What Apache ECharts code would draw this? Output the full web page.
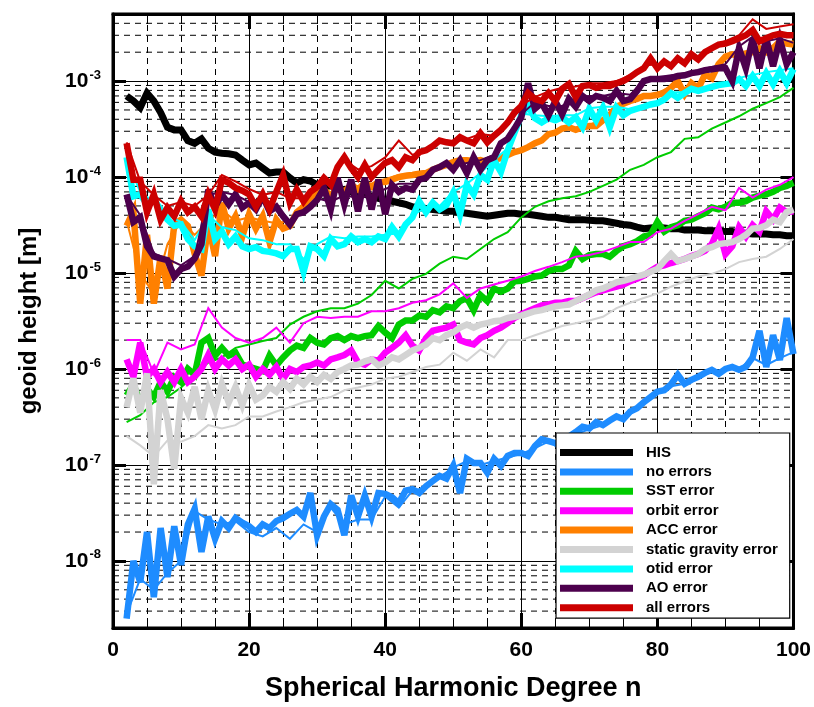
<!DOCTYPE html>
<html>
<head>
<meta charset="utf-8">
<script src="https://cdn.jsdelivr.net/npm/echarts@6/dist/echarts.min.js"></script>
<style>
  html, body { margin: 0; padding: 0; background: #fff; }
  #chart { width: 814px; height: 707px; }
</style>
</head>
<body>
<div id="chart"></div>
<script>
// Spherical harmonic degrees: every degree for the main curves, every second degree for the companion curves
function range(a, b, step) { const r = []; for (let v = a; v <= b; v += step) r.push(v); return r; }
const DEGREES = range(2, 100, 1);
const DEGREES_EVEN = range(2, 100, 2);

const X_TICKS = [0, 20, 40, 60, 80, 100];

const SERIES_NAMES = ['HIS', 'no errors', 'SST error', 'orbit error', 'ACC error',
  'static gravity error', 'otid error', 'AO error', 'all errors'];

// geoid height [m] per degree
const his = [
  7.0e-4,6.2e-4,5.3e-4,7.5e-4,6.2e-4,4.7e-4,3.3e-4,3.1e-4,3.1e-4,2.4e-4,
  2.25e-4,2.5e-4,2.0e-4,1.82e-4,1.77e-4,1.75e-4,1.7e-4,1.5e-4,1.34e-4,1.4e-4,
  1.24e-4,1.1e-4,1.13e-4,1.13e-4,9.8e-5,8.7e-5,9.4e-5,9.1e-5,8.3e-5,7.9e-5,
  8.1e-5,7.6e-5,7.4e-5,7.0e-5,6.9e-5,6.6e-5,6.3e-5,6.0e-5,5.8e-5,5.6e-5,
  5.4e-5,5.2e-5,4.9e-5,4.8e-5,4.7e-5,4.6e-5,4.5e-5,4.4e-5,4.4e-5,4.3e-5,
  4.2e-5,4.1e-5,4.0e-5,3.9e-5,4.0e-5,4.1e-5,4.2e-5,4.2e-5,4.1e-5,4.1e-5,
  4.0e-5,3.9e-5,3.8e-5,3.8e-5,3.7e-5,3.6e-5,3.6e-5,3.6e-5,3.55e-5,3.5e-5,
  3.5e-5,3.4e-5,3.3e-5,3.2e-5,3.15e-5,3.0e-5,2.9e-5,2.95e-5,3.0e-5,2.95e-5,
  2.9e-5,2.9e-5,2.8e-5,2.8e-5,2.8e-5,2.75e-5,2.75e-5,2.75e-5,2.7e-5,2.7e-5,
  2.6e-5,2.6e-5,2.55e-5,2.55e-5,2.55e-5,2.5e-5,2.5e-5,2.45e-5,2.45e-5
];

const noErrors = [
  2.5e-9,1.0e-8,6.0e-9,2.0e-8,4.2e-9,2.2e-8,6.8e-9,2.3e-8,9.1e-9,2.4e-8,
  3.5e-8,1.24e-8,2.9e-8,1.7e-8,2.6e-8,2.2e-8,2.8e-8,2.5e-8,2.3e-8,2.0e-8,
  2.4e-8,2.2e-8,2.6e-8,2.8e-8,3.1e-8,3.4e-8,2.9e-8,5.1e-8,1.85e-8,2.9e-8,
  3.9e-8,3.4e-8,1.85e-8,4.8e-8,2.9e-8,4.8e-8,2.9e-8,5.1e-8,5.0e-8,4.6e-8,
  4.0e-8,5.4e-8,5.6e-8,5.1e-8,6.0e-8,6.8e-8,7.7e-8,7.2e-8,9.8e-8,5.1e-8,
  1.16e-7,1.05e-7,1.05e-7,8.3e-8,1.16e-7,9.8e-8,1.24e-7,1.33e-7,1.33e-7,1.24e-7,
  1.57e-7,1.85e-7,1.77e-7,1.69e-7,1.47e-7,1.98e-7,2.2e-7,2.5e-7,2.4e-7,2.8e-7,
  2.6e-7,2.9e-7,3.2e-7,3.0e-7,3.6e-7,3.9e-7,4.5e-7,5.1e-7,5.8e-7,6.0e-7,
  6.9e-7,8.7e-7,7.0e-7,7.7e-7,8.3e-7,9.1e-7,9.8e-7,8.9e-7,1.0e-6,1.05e-6,
  9.8e-7,1.05e-6,1.32e-6,2.5e-6,1.05e-6,2.25e-6,1.24e-6,3.4e-6,1.43e-6
];
const noErrorsB = [
  2.8e-9,6.5e-9,5.0e-9,7.5e-9,1.0e-8,3.3e-8,2.7e-8,2.4e-8,2.6e-8,2.0e-8,
  1.8e-8,2.2e-8,1.7e-8,2.4e-8,2.0e-8,3.6e-8,2.4e-8,2.7e-8,2.7e-8,4.7e-8,
  3.6e-8,5.4e-8,5.8e-8,7.5e-8,9.4e-8,1.1e-7,1.0e-7,1.1e-7,1.2e-7,1.3e-7,
  1.5e-7,1.75e-7,1.5e-7,2.1e-7,2.35e-7,2.6e-7,3.1e-7,3.5e-7,4.4e-7,5.6e-7,
  6.6e-7,7.0e-7,8.0e-7,9.5e-7,9.8e-7,1.0e-6,1.3e-6,1.1e-6,1.3e-6,1.5e-6
];

const sstError = [
  5.3e-7,6.9e-7,4.5e-7,6.2e-7,5.1e-7,7.3e-7,5.8e-7,8.2e-7,7.3e-7,1.0e-6,
  8.7e-7,1.88e-6,2.1e-6,1.38e-6,1.66e-6,1.38e-6,1.48e-6,1.11e-6,1.05e-6,1.0e-6,
  9.5e-7,1.38e-6,1.09e-6,1.32e-6,1.56e-6,1.75e-6,1.66e-6,2.1e-6,1.88e-6,1.8e-6,
  2.1e-6,2.2e-6,2.0e-6,2.2e-6,2.1e-6,2.2e-6,2.25e-6,2.8e-6,2.4e-6,2.1e-6,
  2.9e-6,3.2e-6,3.2e-6,3.6e-6,3.5e-6,4.1e-6,3.9e-6,4.5e-6,4.3e-6,5.1e-6,
  5.5e-6,4.1e-6,5.9e-6,5.1e-6,6.9e-6,6.4e-6,6.9e-6,8.2e-6,8.3e-6,8.7e-6,
  9.2e-6,9.4e-6,1.05e-5,1.1e-5,1.1e-5,1.2e-5,1.7e-5,1.4e-5,1.54e-5,1.58e-5,
  1.58e-5,1.48e-5,1.7e-5,1.9e-5,2.0e-5,2.15e-5,2.4e-5,2.5e-5,3.4e-5,2.7e-5,
  3.0e-5,3.15e-5,3.5e-5,3.6e-5,3.9e-5,4.2e-5,4.8e-5,4.6e-5,4.9e-5,5.4e-5,
  5.4e-5,5.6e-5,6.1e-5,6.4e-5,6.6e-5,7.0e-5,7.7e-5,8.1e-5,8.7e-5
];
const sstErrorB = [
  2.8e-7,3.3e-7,4.5e-7,5.1e-7,6.4e-7,8.7e-7,1.17e-6,1.32e-6,1.66e-6,1.8e-6,
  1.96e-6,2.1e-6,2.9e-6,3.5e-6,4.0e-6,4.3e-6,4.3e-6,4.8e-6,5.9e-6,8.3e-6,
  6.9e-6,8.7e-6,9.8e-6,1.25e-5,1.48e-5,1.4e-5,1.78e-5,2.26e-5,2.66e-5,3.8e-5,
  4.9e-5,5.6e-5,6.0e-5,6.3e-5,7.0e-5,8.1e-5,9.4e-5,1.19e-4,1.34e-4,1.61e-4,
  1.82e-4,2.5e-4,2.6e-4,3.2e-4,3.7e-4,4.3e-4,5.15e-4,5.9e-4,6.8e-4,8.5e-4
];

const orbitError = [
  1.26e-6,8.3e-7,1.88e-6,8.3e-7,1.0e-6,7.3e-7,9.3e-7,7.3e-7,1.0e-6,7.3e-7,
  8.3e-7,1.0e-6,1.4e-6,1.0e-6,1.26e-6,1.09e-6,1.26e-6,1.0e-6,1.11e-6,8.3e-7,
  1.0e-6,8.7e-7,1.05e-6,7.9e-7,1.0e-6,9.3e-7,1.05e-6,1.09e-6,1.17e-6,1.09e-6,
  1.26e-6,1.32e-6,1.4e-6,1.56e-6,1.17e-6,1.11e-6,1.26e-6,1.22e-6,1.48e-6,1.66e-6,
  1.88e-6,2.25e-6,1.75e-6,1.56e-6,2.1e-6,2.5e-6,2.6e-6,2.7e-6,2.9e-6,2.0e-6,
  1.88e-6,1.8e-6,2.1e-6,2.25e-6,2.5e-6,2.7e-6,3.0e-6,3.4e-6,3.7e-6,4.0e-6,
  4.3e-6,4.6e-6,4.7e-6,4.9e-6,4.9e-6,5.1e-6,5.1e-6,5.5e-6,5.9e-6,6.3e-6,
  6.6e-6,6.9e-6,7.2e-6,7.6e-6,8.2e-6,8.7e-6,9.4e-6,1.05e-5,1.16e-5,1.2e-5,
  1.27e-5,1.33e-5,1.4e-5,1.5e-5,1.58e-5,1.7e-5,2.0e-5,2.9e-5,1.58e-5,1.9e-5,
  3.0e-5,2.4e-5,3.15e-5,2.7e-5,4.4e-5,3.6e-5,4.8e-5,4.3e-5,4.4e-5
];
const orbitErrorB = [
  2.0e-6,2.0e-6,8.9e-7,1.88e-6,1.6e-6,1.8e-6,4.3e-6,2.7e-6,2.1e-6,1.88e-6,
  2.1e-6,2.7e-6,1.88e-6,3.0e-6,3.5e-6,3.4e-6,3.5e-6,3.5e-6,4.0e-6,4.0e-6,
  4.3e-6,4.9e-6,5.2e-6,6.0e-6,7.8e-6,5.5e-6,6.9e-6,7.6e-6,8.3e-6,9.2e-6,
  1.05e-5,1.16e-5,1.3e-5,1.48e-5,1.54e-5,1.66e-5,1.86e-5,2.1e-5,2.1e-5,2.66e-5,
  2.9e-5,3.5e-5,4.1e-5,4.9e-5,4.5e-5,7.7e-5,6.1e-5,7.4e-5,8.3e-5,1.0e-4
];

const accError = [
  3.1e-5,4.4e-5,4.8e-6,2.5e-5,4.8e-6,1.5e-5,6.9e-6,3.2e-5,3.6e-5,3.1e-5,
  1.58e-5,9.4e-6,3.2e-5,1.5e-5,5.4e-5,2.9e-5,3.9e-5,2.4e-5,4.1e-5,2.9e-5,
  3.9e-5,2.1e-5,3.6e-5,2.9e-5,3.1e-5,4.3e-5,4.9e-5,6.3e-5,6.6e-5,7.4e-5,
  6.4e-5,7.7e-5,7.0e-5,8.3e-5,7.4e-5,8.7e-5,7.9e-5,8.9e-5,8.9e-5,9.4e-5,
  1.0e-4,1.03e-4,1.05e-4,1.08e-4,1.1e-4,1.19e-4,1.27e-4,1.34e-4,1.43e-4,1.5e-4,
  1.5e-4,1.47e-4,1.5e-4,1.4e-4,1.5e-4,1.58e-4,1.7e-4,1.82e-4,1.9e-4,2.05e-4,
  2.25e-4,2.4e-4,2.8e-4,2.9e-4,3.2e-4,3.3e-4,3.1e-4,3.3e-4,3.4e-4,3.4e-4,
  3.9e-4,4.4e-4,5.4e-4,5.8e-4,6.2e-4,6.5e-4,7.0e-4,7.0e-4,7.2e-4,7.5e-4,
  8.5e-4,1.0e-3,7.3e-4,9.5e-4,8.3e-4,1.18e-3,1.07e-3,1.5e-3,1.8e-3,1.9e-3,
  1.85e-3,1.94e-3,2.0e-3,2.2e-3,2.0e-3,2.2e-3,2.6e-3,2.46e-3,2.4e-3
];
const accErrorB = [
  3.5e-5,1.0e-5,6.0e-6,2.0e-5,3.5e-5,2.5e-5,3.5e-5,4.5e-5,3.5e-5,3.8e-5,
  3.5e-5,3.3e-5,3.5e-5,5.0e-5,6.5e-5,7.0e-5,7.5e-5,8.0e-5,8.5e-5,9.5e-5,
  1.05e-4,1.1e-4,1.15e-4,1.3e-4,1.45e-4,1.5e-4,1.55e-4,1.55e-4,1.7e-4,1.95e-4,
  2.3e-4,2.8e-4,3.2e-4,3.2e-4,3.5e-4,4.0e-4,5.2e-4,6.0e-4,7.0e-4,7.5e-4,
  8.8e-4,8.5e-4,9.5e-4,1.2e-3,1.8e-3,1.9e-3,2.1e-3,2.2e-3,2.5e-3,2.6e-3
];

const staticGravityError = [
  4.0e-7,8.0e-7,3.5e-7,9.0e-7,6.3e-8,6.0e-7,3.0e-7,9.1e-8,5.0e-7,3.5e-7,
  6.5e-7,3.0e-7,6.0e-7,3.8e-7,7.0e-7,4.5e-7,6.5e-7,4.2e-7,6.8e-7,4.8e-7,
  5.3e-7,6.5e-7,5.8e-7,7.3e-7,6.2e-7,7.9e-7,6.9e-7,8.3e-7,7.3e-7,8.7e-7,
  7.9e-7,9.3e-7,1.0e-6,1.09e-6,1.11e-6,1.2e-6,1.26e-6,1.09e-6,1.17e-6,1.32e-6,
  1.26e-6,1.4e-6,1.56e-6,1.66e-6,1.8e-6,2.1e-6,2.0e-6,2.25e-6,2.4e-6,2.7e-6,
  2.9e-6,2.7e-6,2.9e-6,3.0e-6,3.15e-6,3.2e-6,3.4e-6,3.5e-6,3.6e-6,3.8e-6,
  4.0e-6,4.1e-6,4.3e-6,4.5e-6,4.6e-6,4.7e-6,5.1e-6,5.5e-6,6.0e-6,6.6e-6,
  6.9e-6,7.4e-6,8.0e-6,8.3e-6,8.7e-6,9.2e-6,9.6e-6,1.03e-5,1.1e-5,1.33e-5,
  1.58e-5,1.33e-5,1.4e-5,1.48e-5,1.58e-5,1.78e-5,1.86e-5,2.0e-5,2.05e-5,2.1e-5,
  2.26e-5,2.5e-5,2.9e-5,2.95e-5,3.15e-5,3.6e-5,3.4e-5,4.3e-5,4.6e-5
];
const staticGravityErrorB = [
  2.0e-7,1.6e-7,1.23e-7,1.8e-7,1.75e-7,2.0e-7,2.6e-7,2.4e-7,2.6e-7,3.2e-7,
  3.2e-7,3.6e-7,4.0e-7,4.5e-7,4.8e-7,5.1e-7,6.0e-7,6.4e-7,6.9e-7,7.9e-7,
  8.3e-7,9.3e-7,1.05e-6,1.11e-6,1.48e-6,1.22e-6,1.6e-6,1.32e-6,2.0e-6,2.0e-6,
  2.25e-6,2.5e-6,2.8e-6,3.0e-6,3.2e-6,3.5e-6,4.3e-6,4.9e-6,5.5e-6,6.1e-6,
  7.2e-6,8.2e-6,9.2e-6,9.8e-6,1.1e-5,1.3e-5,1.4e-5,1.48e-5,1.78e-5,2.26e-5
];

const otidError = [
  1.61e-4,6.3e-5,6.6e-5,5.2e-5,5.8e-5,4.6e-5,3.6e-5,3.1e-5,3.2e-5,2.26e-5,
  1.9e-5,1.78e-5,4.6e-5,2.26e-5,2.7e-5,2.0e-5,2.4e-5,1.9e-5,1.78e-5,1.86e-5,
  1.7e-5,1.66e-5,1.6e-5,1.5e-5,1.78e-5,1.78e-5,1.03e-5,1.9e-5,1.78e-5,1.5e-5,
  2.26e-5,1.9e-5,2.0e-5,2.4e-5,2.1e-5,2.26e-5,2.1e-5,2.4e-5,2.26e-5,3.0e-5,
  2.4e-5,3.2e-5,3.8e-5,5.6e-5,4.3e-5,5.4e-5,4.6e-5,5.1e-5,6.9e-5,4.1e-5,
  8.3e-5,6.6e-5,1.05e-4,9.4e-5,1.5e-4,1.13e-4,1.9e-4,2.9e-4,4.4e-4,5.5e-4,
  4.1e-4,3.7e-4,4.1e-4,3.9e-4,4.2e-4,3.7e-4,4.2e-4,3.3e-4,5.15e-4,3.9e-4,
  5.3e-4,3.3e-4,5.3e-4,4.4e-4,4.9e-4,5.15e-4,5.4e-4,5.7e-4,5.9e-4,6.4e-4,
  7.5e-4,6.7e-4,7.5e-4,8.3e-4,7.9e-4,8.3e-4,8.7e-4,9.1e-4,9.3e-4,9.5e-4,
  1.05e-3,8.9e-4,1.13e-3,8.9e-4,1.21e-3,9.3e-4,1.27e-3,9.5e-4,1.33e-3
];
const otidErrorB = [
  1.5e-4,7.0e-5,5.5e-5,4.0e-5,3.4e-5,2.2e-5,4.0e-5,3.0e-5,2.8e-5,2.3e-5,
  2.2e-5,2.0e-5,2.0e-5,1.4e-5,2.0e-5,2.4e-5,2.3e-5,2.4e-5,2.4e-5,2.5e-5,
  2.6e-5,4.0e-5,4.8e-5,5.0e-5,7.0e-5,8.5e-5,1.1e-4,1.5e-4,2.0e-4,4.6e-4,
  4.4e-4,4.3e-4,4.4e-4,4.4e-4,5.2e-4,5.4e-4,5.4e-4,5.1e-4,5.6e-4,6.1e-4,
  7.6e-4,7.7e-4,8.2e-4,9.0e-4,9.6e-4,1.08e-3,1.16e-3,1.24e-3,1.3e-3,1.36e-3
];

const aoError = [
  6.6e-5,3.4e-5,3.8e-5,1.9e-5,1.49e-5,1.42e-5,1.36e-5,9.2e-6,1.1e-5,1.17e-5,
  1.42e-5,2.0e-5,7.4e-5,4.9e-5,6.6e-5,5.2e-5,6.6e-5,4.8e-5,5.4e-5,4.6e-5,
  6.3e-5,4.4e-5,4.9e-5,3.9e-5,3.2e-5,4.1e-5,4.3e-5,4.9e-5,5.8e-5,7.7e-5,
  4.6e-5,9.8e-5,5.2e-5,9.4e-5,4.4e-5,9.8e-5,4.6e-5,9.4e-5,4.1e-5,8.3e-5,
  7.0e-5,7.7e-5,7.4e-5,9.4e-5,9.8e-5,1.19e-4,1.27e-4,1.4e-4,1.19e-4,1.5e-4,
  1.1e-4,1.61e-4,1.19e-4,1.5e-4,1.61e-4,2.25e-4,2.5e-4,3.2e-4,4.2e-4,9.5e-4,
  5.15e-4,5.9e-4,4.4e-4,6.2e-4,4.5e-4,6.5e-4,5.4e-4,7.0e-4,6.2e-4,7.0e-4,
  6.7e-4,6.2e-4,7.9e-4,6.2e-4,6.5e-4,7.9e-4,1.0e-3,1.05e-3,1.05e-3,1.05e-3,
  1.07e-3,1.13e-3,1.15e-3,1.21e-3,1.24e-3,1.3e-3,1.33e-3,1.36e-3,1.36e-3,1.0e-3,
  2.2e-3,1.36e-3,2.77e-3,1.36e-3,2.77e-3,1.43e-3,2.7e-3,1.5e-3,2.0e-3
];
const aoErrorB = [
  6.5e-5,4.0e-5,1.6e-5,1.4e-5,1.2e-5,1.5e-5,6.5e-5,7.0e-5,6.5e-5,5.5e-5,
  6.0e-5,5.0e-5,3.5e-5,4.5e-5,6.0e-5,5.5e-5,6.5e-5,6.0e-5,6.5e-5,7.5e-5,
  8.5e-5,8.5e-5,1.05e-4,1.3e-4,1.3e-4,1.4e-4,1.5e-4,1.7e-4,2.6e-4,4.5e-4,
  6.0e-4,5.5e-4,5.5e-4,6.5e-4,7.0e-4,7.0e-4,7.5e-4,7.2e-4,1.0e-3,1.1e-3,
  1.15e-3,1.2e-3,1.3e-3,1.4e-3,1.5e-3,2.3e-3,2.9e-3,2.6e-3,2.8e-3,2.5e-3
];

const allErrors = [
  2.25e-4,9.4e-5,9.4e-5,4.3e-5,6.6e-5,3.6e-5,4.8e-5,3.9e-5,5.6e-5,4.3e-5,
  4.9e-5,3.9e-5,6.6e-5,4.6e-5,9.4e-5,8.7e-5,7.7e-5,7.2e-5,6.6e-5,4.9e-5,
  6.6e-5,4.6e-5,7.0e-5,1.05e-4,5.4e-5,7.4e-5,5.6e-5,7.0e-5,7.9e-5,9.8e-5,
  8.3e-5,1.27e-4,1.61e-4,1.24e-4,1.0e-4,1.34e-4,1.0e-4,1.19e-4,1.4e-4,1.5e-4,
  1.27e-4,1.61e-4,1.5e-4,1.82e-4,1.9e-4,2.1e-4,2.4e-4,2.3e-4,2.25e-4,2.6e-4,
  2.4e-4,2.25e-4,2.85e-4,2.3e-4,2.7e-4,3.1e-4,3.7e-4,4.7e-4,5.5e-4,7.5e-4,
  6.5e-4,6.2e-4,7.5e-4,6.2e-4,8.3e-4,9.3e-4,6.8e-4,8.9e-4,9.1e-4,8.5e-4,
  8.9e-4,8.9e-4,9.5e-4,1.0e-3,1.1e-3,1.24e-3,1.36e-3,1.72e-3,1.36e-3,1.6e-3,
  1.43e-3,1.72e-3,1.53e-3,1.9e-3,1.68e-3,2.0e-3,2.2e-3,2.4e-3,2.46e-3,2.6e-3,
  2.8e-3,3.0e-3,3.4e-3,2.6e-3,2.8e-3,3.0e-3,3.1e-3,3.0e-3,3.0e-3
];
const allErrorsB = [
  2.3e-4,9.0e-5,6.5e-5,5.0e-5,5.5e-5,5.0e-5,6.5e-5,1.05e-4,9.0e-5,7.5e-5,
  6.5e-5,7.0e-5,6.0e-5,6.0e-5,8.0e-5,9.0e-5,1.5e-4,1.2e-4,1.3e-4,1.6e-4,
  2.4e-4,1.7e-4,1.9e-4,2.3e-4,2.3e-4,2.5e-4,2.8e-4,2.7e-4,3.8e-4,5.6e-4,
  6.8e-4,7.8e-4,8.5e-4,8.8e-4,9.5e-4,9.5e-4,1.0e-3,1.15e-3,1.45e-3,1.5e-3,
  1.55e-3,1.65e-3,1.8e-3,2.3e-3,2.6e-3,3.0e-3,4.4e-3,3.5e-3,3.7e-3,3.9e-3
];

const COLORS = {
  'HIS': '#000000',
  'no errors': '#1e8cff',
  'SST error': '#00cc00',
  'orbit error': '#ff00ff',
  'ACC error': '#ff8000',
  'static gravity error': '#d3d3d3',
  'otid error': '#00ffff',
  'AO error': '#4d004d',
  'all errors': '#cc0000'
};

const FONT = 'Liberation Sans';
const Y_MIN = 2e-9, Y_MAX = 5e-3;

function pairs(xs, ys) { return xs.map((x, i) => [x, ys[i]]); }

function curve(name, xs, ys, width) {
  return {
    name: name,
    type: 'line',
    data: pairs(xs, ys),
    showSymbol: false,
    symbol: 'none',
    silent: true,
    animation: false,
    z: 3,
    lineStyle: { color: COLORS[name], width: width, join: 'miter', miterLimit: 4 },
    itemStyle: { color: COLORS[name] }
  };
}

// dashed sub-decade gridlines at 2..9 x 10^k, drawn across the full degree range
const minorLevels = [];
for (let k = -9; k <= -3; k++) {
  for (let m = 2; m <= 9; m++) {
    const v = m * Math.pow(10, k);
    if (v > Y_MIN * 1.0001 && v < Y_MAX * 0.9999) minorLevels.push(v);
  }
}
const gridSeries = minorLevels.map(v => ({
  type: 'line',
  data: [[0, v], [100, v]],
  showSymbol: false, symbol: 'none', silent: true, animation: false,
  z: 1,
  lineStyle: { color: '#000', width: 1, type: [6, 5] },
  tooltip: { show: false }
}));

const series = gridSeries.concat([
  curve('HIS', DEGREES, his, 7),
  curve('no errors', DEGREES, noErrors, 6.5),
  curve('no errors', DEGREES_EVEN, noErrorsB, 2),
  curve('SST error', DEGREES, sstError, 6.5),
  curve('SST error', DEGREES_EVEN, sstErrorB, 2),
  curve('orbit error', DEGREES, orbitError, 6.5),
  curve('orbit error', DEGREES_EVEN, orbitErrorB, 2),
  curve('ACC error', DEGREES, accError, 6.5),
  curve('ACC error', DEGREES_EVEN, accErrorB, 2),
  curve('static gravity error', DEGREES, staticGravityError, 6.5),
  curve('static gravity error', DEGREES_EVEN, staticGravityErrorB, 2),
  curve('otid error', DEGREES, otidError, 6.5),
  curve('otid error', DEGREES_EVEN, otidErrorB, 2),
  curve('AO error', DEGREES, aoError, 6.5),
  curve('AO error', DEGREES_EVEN, aoErrorB, 2),
  curve('all errors', DEGREES, allErrors, 6.5),
  curve('all errors', DEGREES_EVEN, allErrorsB, 2)
]);

function decadeLabel(v) {
  const e = Math.log10(v);
  const r = Math.round(e);
  if (Math.abs(e - r) > 1e-6) return '';
  return '{b|10}{s|' + r + '}';
}

const chart = echarts.init(document.getElementById('chart'), null, { renderer: 'canvas' });
chart.setOption({
  animation: false,
  backgroundColor: '#fff',
  textStyle: { fontFamily: FONT },
  grid: {
    left: 113, right: 19, top: 14, bottom: 72,
    show: true, borderColor: '#000', borderWidth: 3, backgroundColor: 'transparent'
  },
  legend: {
    left: 556, top: 433, orient: 'vertical',
    data: SERIES_NAMES.map(n => ({ name: n, icon: 'rect' })),
    itemWidth: 73, itemHeight: 7, itemGap: 4.4,
    padding: [12, 12, 3, 4],
    backgroundColor: '#fff', borderColor: '#000', borderWidth: 1.2,
    selectedMode: false, z: 10,
    textStyle: { fontFamily: FONT, fontSize: 15, fontWeight: 'bold', color: '#000', padding: [0, 0, 0, 8] }
  },
  xAxis: [
    {
      type: 'value', min: 0, max: 100, interval: 20,
      name: 'Spherical Harmonic Degree n', nameLocation: 'middle', nameGap: 47,
      nameTextStyle: { fontFamily: FONT, fontSize: 27, fontWeight: 'bold', color: '#000' },
      axisLine: { show: true, onZero: false, lineStyle: { color: '#000', width: 3 } },
      axisTick: { show: true, inside: true, length: 15, lineStyle: { color: '#000', width: 3 } },
      minorTick: { show: true, splitNumber: 4, length: 10, lineStyle: { color: '#000', width: 1 } },
      axisLabel: { fontFamily: FONT, fontSize: 21, fontWeight: 'bold', color: '#000', margin: 12,
        formatter: v => (X_TICKS.indexOf(v) >= 0 ? String(v) : '') },
      splitLine: { show: true, lineStyle: { color: '#000', width: 1 } },
      minorSplitLine: { show: true, lineStyle: { color: '#000', width: 1, type: [6, 5] } }
    },
    {
      type: 'value', min: 0, max: 100, interval: 20, position: 'top',
      axisLine: { show: true, onZero: false, lineStyle: { color: '#000', width: 3 } },
      axisTick: { show: true, inside: true, length: 15, lineStyle: { color: '#000', width: 3 } },
      minorTick: { show: true, splitNumber: 4, length: 10, lineStyle: { color: '#000', width: 1 } },
      axisLabel: { show: false },
      splitLine: { show: false }
    }
  ],
  yAxis: [
    {
      type: 'log', logBase: 10, min: Y_MIN, max: Y_MAX,
      name: 'geoid height [m]', nameLocation: 'middle', nameGap: 72,
      nameTextStyle: { fontFamily: FONT, fontSize: 24, fontWeight: 'bold', color: '#000' },
      axisLine: { show: true, onZero: false, lineStyle: { color: '#000', width: 3 } },
      axisTick: { show: true, inside: true, length: 13, lineStyle: { color: '#000', width: 3 } },
      axisLabel: {
        margin: 12, color: '#000', formatter: decadeLabel,
        rich: {
          b: { fontFamily: FONT, fontSize: 21, color: '#000', fontWeight: 'bold' },
          s: { fontFamily: FONT, fontSize: 13, color: '#000', fontWeight: 'bold', verticalAlign: 'top', padding: [0, 0, 12, 1] }
        }
      },
      splitLine: { show: true, lineStyle: { color: '#000', width: 1 } }
    },
    {
      type: 'log', logBase: 10, min: Y_MIN, max: Y_MAX, position: 'right',
      axisLine: { show: true, onZero: false, lineStyle: { color: '#000', width: 3 } },
      axisTick: { show: true, inside: true, length: 13, lineStyle: { color: '#000', width: 3 } },
      axisLabel: { show: false },
      splitLine: { show: false }
    }
  ],
  series: series
});
</script>
</body>
</html>
